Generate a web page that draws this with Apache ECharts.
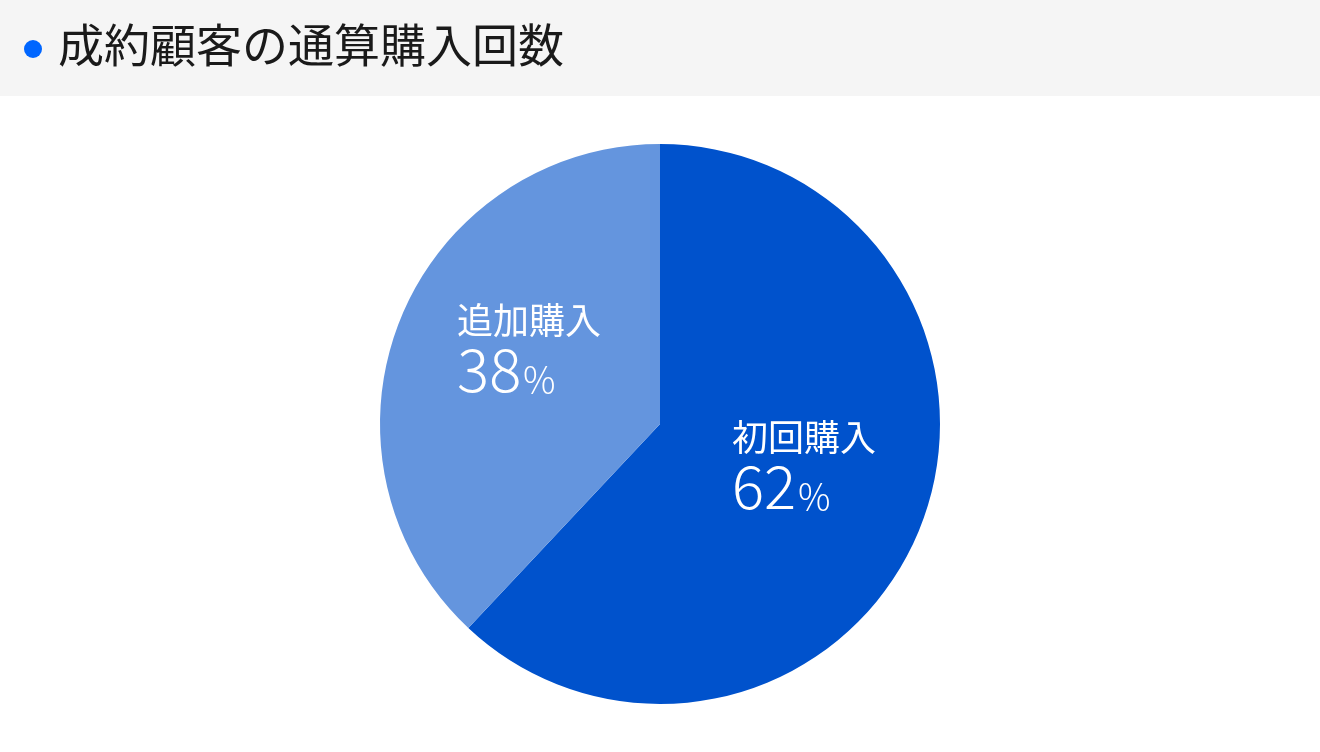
<!DOCTYPE html>
<html>
<head>
<meta charset="utf-8">
<script src="https://cdn.jsdelivr.net/npm/echarts@6/dist/echarts.min.js"></script>
<style>
  html, body { margin: 0; padding: 0; background: #fff; }
  #chart { width: 1320px; height: 752px; }
</style>
</head>
<body>
<div id="chart"></div>
<script>
var titleText = '成約顧客の通算購入回数'
var names = ['初回購入', '追加購入']
var values = [62, 38]
var colors = ['#0052cc', '#6495de']

var chart = echarts.init(document.getElementById('chart'))
var font = '"Noto Sans CJK JP", "Noto Sans", sans-serif'
var offsets = [[11, -10], [2, -22]]

var option = {
    animation: false,
    graphic: [
        { type: 'rect', shape: { x: 0, y: 0, width: 1320, height: 96 }, style: { fill: '#f5f5f5' }, z: -1 },
        { type: 'circle', shape: { cx: 33, cy: 49, r: 9 }, style: { fill: '#0066ff' } },
        {
            type: 'text', left: 58, top: 22,
            style: { text: titleText, fontSize: 46, fontFamily: font, fill: '#1a1a1a' }
        }
    ],
    series: [{
        type: 'pie',
        center: [660, 424],
        radius: 280,
        startAngle: 90,
        clockwise: true,
        label: {
            show: true,
            position: 'inside',
            color: '#fff',
            fontFamily: font,
            formatter: '{n|{b}}\n{v|{c}}{p|％}',
            rich: {
                n: { fontSize: 36, lineHeight: 40, color: '#fff', fontFamily: font, align: 'left' },
                v: { fontSize: 60, lineHeight: 58, color: '#fff', fontFamily: font, fontWeight: 300, align: 'left' },
                p: { fontSize: 36, lineHeight: 58, color: '#fff', fontFamily: font, fontWeight: 300, align: 'left', verticalAlign: 'bottom' }
            }
        },
        labelLine: { show: false },
        data: names.map(function (n, i) {
            return { name: n, value: values[i], itemStyle: { color: colors[i] }, label: { offset: offsets[i] } }
        })
    }]
}
chart.setOption(option)
</script>
</body>
</html>
